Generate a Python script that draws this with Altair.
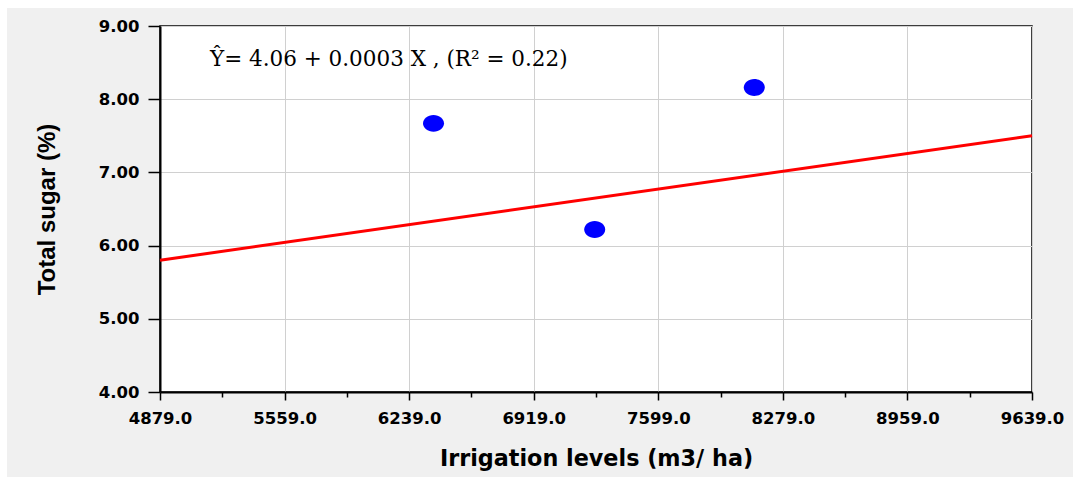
import altair as alt
import pandas as pd

# Observed treatment means
irrigation = [6372, 7252, 8123]
total_sugar = [7.67, 6.22, 8.16]

# Fitted regression line, evaluated at the ends of the x range
fit_x = [4879, 9639]
fit_y = [5.80, 7.50]

equation = "Ŷ= 4.06 + 0.0003 X , (R² = 0.22)"

x_major = [4879.0, 5559.0, 6239.0, 6919.0, 7599.0, 8279.0, 8959.0, 9639.0]
y_major = [4.0, 5.0, 6.0, 7.0, 8.0, 9.0]
x_step_minor = 170
y_step_minor = 0.25

x_ticks = []
for a in x_major[:-1]:
    x_ticks += [a + k * x_step_minor for k in range(4)]
x_ticks.append(x_major[-1])
y_ticks = []
for a in y_major[:-1]:
    y_ticks += [a + k * y_step_minor for k in range(4)]
y_ticks.append(y_major[-1])

points = pd.DataFrame({"x": irrigation, "y": total_sugar})
fit = pd.DataFrame({"x": fit_x, "y": fit_y})

x_is_major = "abs((datum.value - 4879) % 680) < 0.001"
y_is_major = "abs(datum.value % 1) < 0.001"

x_scale = alt.Scale(domain=[4879, 9639], nice=False, zero=False)
y_scale = alt.Scale(domain=[4, 9], nice=False, zero=False)

x_axis = alt.Axis(
    title="Irrigation levels (m3/ ha)",
    values=x_ticks,
    labelExpr=f"{x_is_major} ? format(datum.value, '.1f') : ''",
    labelOverlap=False,
    labelFlush=False,
    labelFont="DejaVu Sans",
    labelFontWeight="bold",
    labelFontSize=16.5,
    labelColor="black",
    labelPadding=10,
    tickColor="black",
    tickWidth=1.5,
    tickSize={"condition": {"test": x_is_major, "value": 8}, "value": 5},
    grid=True,
    gridColor="#d0d0d0",
    gridWidth=1,
    gridOpacity={"condition": {"test": x_is_major, "value": 1}, "value": 0},
    domainColor="black",
    domainWidth=2,
    titleFont="DejaVu Sans",
    titleFontWeight="bold",
    titleFontSize=22.3,
    titleColor="black",
    titlePadding=21,
)

y_axis = alt.Axis(
    title="Total sugar (%)",
    values=y_ticks,
    labelExpr=f"{y_is_major} ? format(datum.value, '.2f') : ''",
    labelOverlap=False,
    labelFlush=False,
    labelFont="DejaVu Sans",
    labelFontWeight="bold",
    labelFontSize=16.5,
    labelColor="black",
    labelPadding=9,
    tickColor="black",
    tickWidth=1.5,
    tickSize={"condition": {"test": y_is_major, "value": 12}, "value": 8},
    grid=True,
    gridColor="#d0d0d0",
    gridWidth=1,
    gridOpacity={"condition": {"test": y_is_major, "value": 1}, "value": 0},
    domainColor="black",
    domainWidth=2,
    titleFont="Liberation Sans",
    titleFontWeight="bold",
    titleFontSize=24,
    titleColor="black",
    titlePadding=39,
)

ellipse = "M-1,0A1,0.8,0,1,0,1,0A1,0.8,0,1,0,-1,0Z"

line = alt.Chart(fit).mark_line(color="#ff0000", strokeWidth=3).encode(
    x=alt.X("x:Q", scale=x_scale, axis=x_axis),
    y=alt.Y("y:Q", scale=y_scale, axis=y_axis),
)

dots = alt.Chart(points).mark_point(
    shape=ellipse, filled=True, size=441, color="#0000ff", opacity=1
).encode(
    x=alt.X("x:Q", scale=x_scale),
    y=alt.Y("y:Q", scale=y_scale),
)

blank = alt.Data(values=[{}])

label = alt.Chart(blank).mark_text(
    text=equation,
    font="DejaVu Serif",
    fontSize=21.5,
    align="left",
    baseline="alphabetic",
    color="black",
).encode(x=alt.value(50), y=alt.value(40))

# white page strips along the top and left edges
strip_top = alt.Chart(blank).mark_rect(color="white").encode(
    x=alt.value(-160), x2=alt.value(913), y=alt.value(-26), y2=alt.value(-18)
)
strip_left = alt.Chart(blank).mark_rect(color="white").encode(
    x=alt.value(-160), x2=alt.value(-153), y=alt.value(-26), y2=alt.value(451)
)

chart = (
    alt.layer(line, dots, label, strip_top, strip_left)
    .properties(
        width=872,
        height=366,
        padding={"left": 160, "top": 26, "right": 41, "bottom": 85},
        autosize=alt.AutoSizeParams(type="none"),
        background="#f0f0f0",
    )
    .configure_view(fill="white", stroke="black", strokeWidth=1.5)
)

chart.save("out.html", embed_options={"renderer": "svg", "actions": False})
